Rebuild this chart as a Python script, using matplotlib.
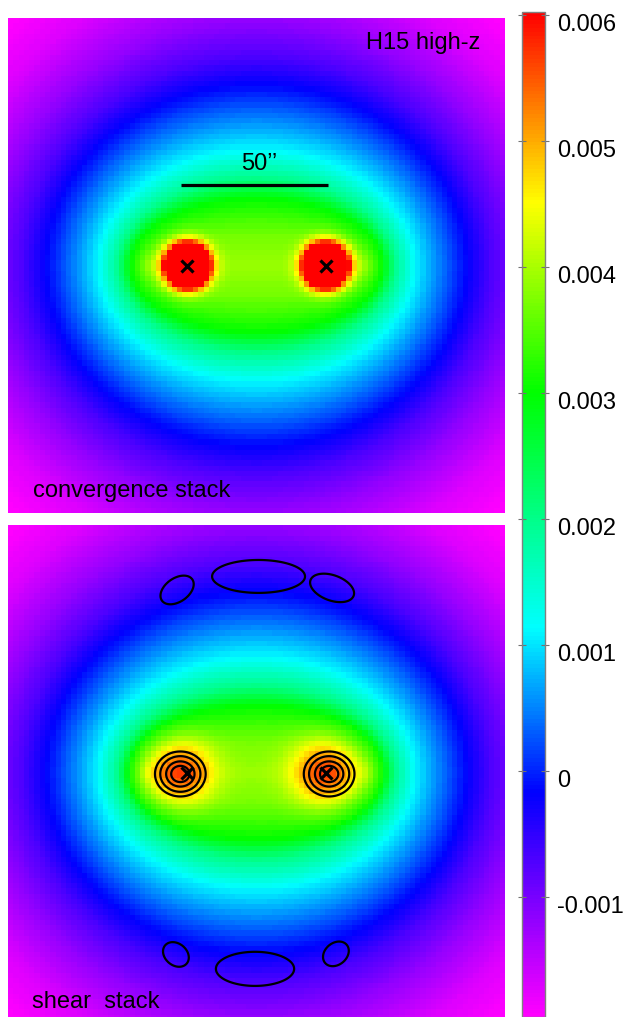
import numpy as np
import matplotlib
matplotlib.use("Agg")
import matplotlib.pyplot as plt
from matplotlib.colors import LinearSegmentedColormap
from matplotlib.transforms import offset_copy

plt.rcParams['font.family'] = ['Liberation Sans', 'DejaVu Sans']
FS = 17

# ---- map geometry (arcsec) ----
half_x = 84.5
half_y 	= 84.2
n_pix = 94

# ---- halo pair (crosses) ----
pair_x = [-23.5, 23.5]
pair_y = [0.0, 0.0]

# ---- broad stacked profile: confocal-ellipse minor radius (arcsec) -> convergence ----
profile_r = [0.0, 10.0, 16.0, 22.8, 29.6, 39.8, 50.0, 58.5, 71.0, 83.7, 100.0, 112.0, 130.0]
profile_val = [0.0039, 0.0037, 0.0034, 0.0030, 0.0020, 0.0011, 0.0005, 0.0,
               -0.0007, -0.0012, -0.0017, -0.0019, -0.0021]
profile_focus = 36.5     # focal half-distance of the elliptical isophotes

# ---- halo cores (gaussian) ----
conv_core_x = [-23.5, 23.5]
conv_core_amp = 0.012
conv_core_sig = 4.3
shear_core_x = [-25.9, 23.1]
shear_core_amp = 0.0018
shear_core_sig = 7.7

# ---- shear contour components ----
ring_x = [-25.9, 24.7]
ring_y = [-0.5, -0.5]
ring_sx = 4.1
ring_sy = 3.64
ring_levels = [0.11, 0.25, 0.5, 0.75]
# lobes: x, y, half-major, half-minor, angle (deg)
lobe_x = [0.7, -27.0, 25.7, -0.5, -27.4, 27.0]
lobe_y = [66.7, 62.1, 62.8, -66.8, -61.9, -61.7]
lobe_a = [15.8, 6.3, 7.8, 13.3, 4.8, 4.8]
lobe_b = [5.6, 4.0, 4.3, 5.8, 3.7, 3.7]
lobe_ang = [0, 35, -20, 0, -40, 40]
lobe_amp = 0.2

# ---- colour scale ----
vmin, vmax = -0.00195, 0.00602
cmap_pos = [0.0, 0.222, 0.387, 0.622, 0.811, 1.0]
cmap_col = ['#ff00ff', '#0000ff', '#00ffff', '#00ff00', '#ffff00', '#ff0000']
cbar_ticks = [-0.001, 0, 0.001, 0.002, 0.003, 0.004, 0.005, 0.006]
cbar_labels = ['-0.001', '0', '0.001', '0.002', '0.003', '0.004', '0.005', '0.006']

scale_len = 50.0
scale_left = -25.7
scale_y = 27.4

cmap = LinearSegmentedColormap.from_list('rainbow_mb', list(zip(cmap_pos, cmap_col)))


def broad(x, y):
    r1 = np.hypot(x + profile_focus, y)
    r2 = np.hypot(x - profile_focus, y)
    semi = 0.5 * (r1 + r2)
    rho = np.sqrt(np.maximum(semi ** 2 - profile_focus ** 2, 0))
    return np.interp(rho, profile_r, profile_val)


def cores(x, y, xs, amp, sig):
    out = np.zeros_like(x)
    for cx in xs:
        r2 = (x - cx) ** 2 + y ** 2
        out += amp * np.exp(-0.5 * r2 / sig ** 2)
    return out


xc = np.linspace(-half_x, half_x, n_pix + 1)
yc = np.linspace(-half_y, half_y, n_pix + 1)
xc = 0.5 * (xc[1:] + xc[:-1])
yc = 0.5 * (yc[1:] + yc[:-1])
X, Y = np.meshgrid(xc, yc)
conv_map = broad(X, Y) + cores(X, Y, conv_core_x, conv_core_amp, conv_core_sig)
shear_map = broad(X, Y) + cores(X, Y, shear_core_x, shear_core_amp, shear_core_sig)

# fine grid for contours
xf = np.linspace(-half_x, half_x, 600)
yf = np.linspace(-half_y, half_y, 600)
XF, YF = np.meshgrid(xf, yf)
comps = []
for cx, cy in zip(ring_x, ring_y):
    comps.append(np.exp(-0.5 * (((XF - cx) / ring_sx) ** 2 + ((YF - cy) / ring_sy) ** 2)))
for cx, cy, a, b, ang in zip(lobe_x, lobe_y, lobe_a, lobe_b, lobe_ang):
    t = np.deg2rad(ang)
    u = (XF - cx) * np.cos(t) + (YF - cy) * np.sin(t)
    v = -(XF - cx) * np.sin(t) + (YF - cy) * np.cos(t)
    rn2 = (u / a) ** 2 + (v / b) ** 2
    comps.append(lobe_amp * np.exp(-rn2 * np.log(lobe_amp / ring_levels[0])))
contour_field = np.max(np.array(comps), axis=0)

W, H = 625, 1017
fig = plt.figure(figsize=(W / 100, H / 100), dpi=100)


def px_box(x0, y0, x1, y1):
    return [x0 / W, 1 - y1 / H, (x1 - x0) / W, (y1 - y0) / H]


def px_pt(x, y):
    return x / W, 1 - y / H


ax1 = fig.add_axes(px_box(8, 18, 505, 513))
ax2 = fig.add_axes(px_box(8, 525, 505, 1020))
extent = [-half_x, half_x, -half_y, half_y]
for ax, data in ((ax1, conv_map), (ax2, shear_map)):
    im = ax.imshow(data, origin='lower', extent=extent, cmap=cmap, vmin=vmin, vmax=vmax,
                   interpolation='nearest', aspect='auto')
    ax.plot(pair_x, pair_y, 'x', color='k', ms=8.5, mew=2.3)
    ax.set_xlim(-half_x, half_x)
    ax.set_ylim(-half_y, half_y)
    ax.axis('off')

ax1.plot([scale_left, scale_left + scale_len], [scale_y, scale_y], color='k', lw=2.3,
         solid_capstyle='butt')
ax2.contour(XF, YF, contour_field, levels=ring_levels, colors='k', linewidths=1.6)

fig.text(*px_pt(480, 32), 'H15 high-z', ha='right', va='top', fontsize=FS)
fig.text(*px_pt(259.5, 170), '50\u2019\u2019', ha='center', va='baseline', fontsize=FS)
fig.text(*px_pt(33, 497), 'convergence stack', ha='left', va='baseline', fontsize=FS)
fig.text(*px_pt(32, 1008), 'shear  stack', ha='left', va='baseline', fontsize=FS)

cax = fig.add_axes(px_box(522, 12, 545, 1017))
cb = fig.colorbar(im, cax=cax, ticks=cbar_ticks)
cb.outline.set_edgecolor('0.5')
cb.outline.set_linewidth(1.0)
cax.yaxis.set_ticks_position('both')
cax.tick_params(axis='y', direction='inout', length=6, width=0.8, color='0.45',
                labelleft=False, labelright=False)
lab_tr = offset_copy(cax.get_yaxis_transform(), fig=fig, x=12, y=-10, units='dots')
for v, s in zip(cbar_ticks, cbar_labels):
    cax.text(1, v, s, transform=lab_tr, ha='left', va='center', fontsize=FS)

fig.savefig('out.png', dpi=100)
